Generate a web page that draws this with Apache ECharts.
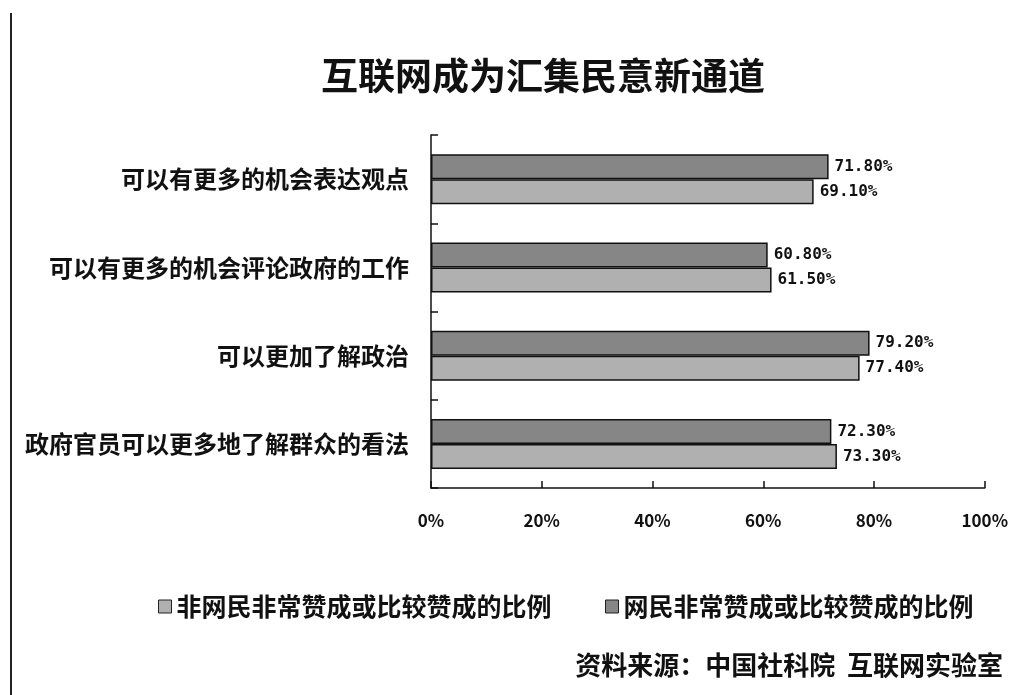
<!DOCTYPE html>
<html>
<head>
<meta charset="utf-8">
<script src="https://cdn.jsdelivr.net/npm/echarts@6/dist/echarts.min.js"></script>
<style>html,body{margin:0;padding:0;background:#fff;}#c{width:1011px;height:695px;}</style>
</head>
<body>
<div id="c"></div>
<script>
const categories = ['可以有更多的机会表达观点', '可以有更多的机会评论政府的工作', '可以更加了解政治', '政府官员可以更多地了解群众的看法'];
const netizenName = '网民非常赞成或比较赞成的比例';
const nonNetizenName = '非网民非常赞成或比较赞成的比例';
const netizenValues = [71.8, 60.8, 79.2, 72.3];
const nonNetizenValues = [69.1, 61.5, 77.4, 73.3];
const xTicks = [0, 20, 40, 60, 80, 100];

const FONT = '"Noto Sans CJK SC", sans-serif';
const chart = echarts.init(document.getElementById('c'));
const labelCfg = {
  show: true, position: 'right', distance: 6,
  formatter: p => p.value.toFixed(2) + '%',
  color: '#111', fontWeight: 'bold', fontSize: 16, fontFamily: '"DejaVu Sans Mono", monospace'
};
const legendText = { fontFamily: FONT, fontSize: 25, fontWeight: 'bold', color: '#111' };
chart.setOption({
  backgroundColor: '#fff',
  animation: false,
  title: {
    text: '互联网成为汇集民意新通道', left: 316, top: 52,
    textStyle: { fontFamily: FONT, fontSize: 37, fontWeight: 'bold', color: '#111' }
  },
  legend: [
    {
      data: [nonNetizenName], left: 153, top: 589, itemWidth: 13, itemHeight: 13,
      icon: 'rect', itemStyle: { borderColor: '#222', borderWidth: 1 }, textStyle: legendText
    },
    {
      data: [netizenName], left: 600, top: 589, itemWidth: 13, itemHeight: 13,
      icon: 'rect', itemStyle: { borderColor: '#222', borderWidth: 1 }, textStyle: legendText
    }
  ],
  grid: { left: 431, right: 25, top: 135, bottom: 207, containLabel: false },
  xAxis: {
    type: 'value', min: 0, max: 100, interval: 20,
    axisLine: { show: true, lineStyle: { color: '#111', width: 1.5 } },
    axisTick: { show: true, inside: true, length: 7, lineStyle: { color: '#111', width: 1.5 } },
    splitLine: { show: false },
    axisLabel: { formatter: v => xTicks.includes(v) ? v + '%' : '', margin: 24, color: '#111', fontWeight: 'bold', fontSize: 17, fontFamily: FONT }
  },
  yAxis: {
    type: 'category', data: categories, inverse: true,
    axisLine: { show: true, lineStyle: { color: '#111', width: 1.5 } },
    axisTick: { show: true, inside: true, length: 7, alignWithLabel: false, lineStyle: { color: '#111', width: 1.5 } },
    axisLabel: { margin: 22, color: '#111', fontWeight: 'bold', fontSize: 24, fontFamily: FONT }
  },
  series: [
    {
      name: netizenName, type: 'bar', data: netizenValues,
      barWidth: 25, barGap: '0%', barCategoryGap: '42%',
      itemStyle: { color: '#868686', borderColor: '#111', borderWidth: 1.5 },
      label: labelCfg
    },
    {
      name: nonNetizenName, type: 'bar', data: nonNetizenValues,
      barWidth: 25, barGap: '0%', barCategoryGap: '42%',
      itemStyle: { color: '#b0b0b0', borderColor: '#111', borderWidth: 1.5 },
      label: labelCfg
    }
  ],
  graphic: [
    { type: 'line', shape: { x1: 11, y1: 13, x2: 11, y2: 695 }, style: { stroke: '#222', lineWidth: 2 } },
    { type: 'text', right: 8, top: 652, style: { text: '资料来源：中国社科院  互联网实验室', fontFamily: FONT, fontSize: 26, fontWeight: 'bold', fill: '#111' } }
  ]
});
</script>
</body>
</html>
